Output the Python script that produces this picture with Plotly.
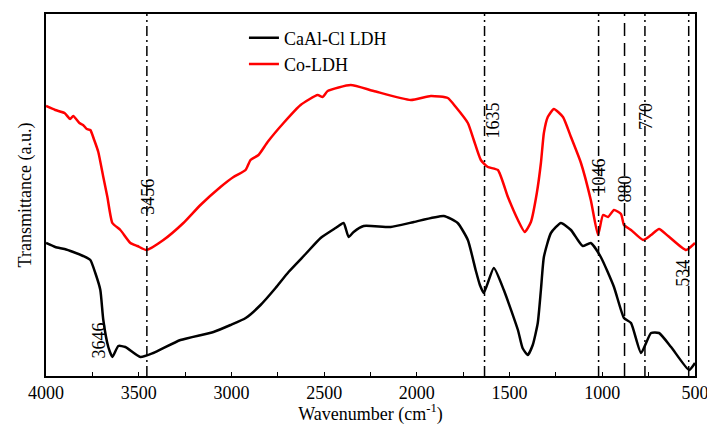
import plotly.graph_objects as go

# ---------------- data ----------------
red_wn = [4000, 3950, 3900, 3870, 3853, 3820, 3800, 3780, 3761, 3740, 3718, 3691, 3669, 3642,
          3599, 3545, 3507, 3458, 3367, 3259, 3167, 3059, 2989, 2924, 2897, 2854, 2805,
          2719, 2627, 2535, 2508, 2481, 2357, 2233, 2033, 1925, 1833, 1790, 1725, 1693,
          1655, 1617, 1563, 1509, 1455, 1418, 1385, 1353, 1331, 1315, 1294, 1261, 1212,
          1169, 1115, 1062, 1023, 996, 969, 937, 899, 883, 845, 780, 737, 694, 645, 548, 500]
red_val = [270, 266, 263, 257, 260, 253, 251, 247, 246, 236, 224, 199, 179, 153,
           146, 133, 130, 126, 136, 153, 171, 189, 199, 206, 216, 221, 234,
           253, 271, 281, 279, 285, 291, 285, 276, 280, 278, 269, 253, 236,
           216, 209, 206, 179, 156, 144, 154, 183, 213, 243, 259, 267, 259,
           239, 213, 176, 141, 161, 159, 166, 162, 151, 146, 136, 141, 147, 140, 126, 133]

black_wn = [4000, 3950, 3900, 3853, 3800, 3761, 3734, 3707, 3691, 3664, 3642, 3610, 3572,
            3491, 3421, 3275, 3097, 3005, 2923, 2843, 2762, 2692, 2600, 2519, 2438, 2395,
            2368, 2341, 2287, 2141, 2016, 1855, 1780, 1725, 1683, 1660, 1639, 1585, 1531,
            1455, 1430, 1402, 1375, 1348, 1331, 1315, 1277, 1223, 1169, 1132, 1105, 1062,
            1008, 937, 883, 845, 791, 737, 694, 629, 532, 500]
black_val = [133, 129, 127, 124, 120, 116, 103, 86, 56, 29, 19, 30, 29,
             19, 23, 36, 44, 51, 58, 71, 88, 104, 122, 138, 148, 153,
             139, 144, 150, 149, 154, 160, 153, 136, 106, 91, 83, 108, 86,
             46, 28, 21, 31, 53, 86, 119, 143, 153, 146, 136, 130, 133,
             119, 89, 58, 53, 23, 43, 43, 29, 6, 13]

series_names = ["CaAl-Cl LDH", "Co-LDH"]

peak_lines = [3456, 1635, 1020, 880, 770, 534]
peak_labels = ["3456", "1635", "1046", "880", "770", "534"]
extra_label = "3646"

tick_vals = [4000, 3500, 3000, 2500, 2000, 1500, 1000, 500]
tick_text = ["4000", "3500", "3000", "2500", "2000", "1500", "1000", "500"]

# ---------------- figure ----------------
FONT = "Liberation Serif, Times New Roman, serif"
fig = go.Figure()
fig.add_trace(go.Scatter(x=black_wn, y=black_val, mode="lines", name=series_names[0],
                         line=dict(color="black", width=2.5, shape="spline", smoothing=0.5)))
fig.add_trace(go.Scatter(x=red_wn, y=red_val, mode="lines", name=series_names[1],
                         line=dict(color="#ff0000", width=2.5, shape="spline", smoothing=0.5)))

line_styles = ["10px,4px,2px,4px"] * 6
line_styles[3] = "13px,7px"
for pos, st in zip(peak_lines, line_styles):
    fig.add_shape(type="line", xref="x", yref="paper", x0=pos, x1=pos, y0=0, y1=1,
                  line=dict(color="black", width=1.5, dash=st))

# label placement (value-axis heights and pixel shifts)
label_y = [179, 255, 199, 187, 260, 103]
label_dx = [1, 8, 0, 0, 1, -6]
for pos, txt, yy, dx in zip(peak_lines, peak_labels, label_y, label_dx):
    fig.add_annotation(x=pos, y=yy, text=txt, textangle=-90, showarrow=False,
                       xshift=dx, font=dict(family=FONT, size=18, color="black"))
fig.add_annotation(x=3712, y=36, text=extra_label, textangle=-90, showarrow=False,
                   font=dict(family=FONT, size=18, color="black"))

fig.update_layout(
    width=707, height=425,
    margin=dict(l=46, r=12, t=14, b=49),
    paper_bgcolor="white", plot_bgcolor="white",
    font=dict(family=FONT, size=18, color="black"),
    showlegend=True,
    legend=dict(x=0.305, y=0.985, xanchor="left", yanchor="top",
                bgcolor="rgba(0,0,0,0)", font=dict(family=FONT, size=18),
                tracegroupgap=0),
    xaxis=dict(range=[4000, 500], autorange=False, automargin=False,
               showgrid=False, zeroline=False, ticklabeloverflow="allow",
               showline=True, linecolor="black", linewidth=1.5, mirror=True,
               ticks="inside", ticklen=4, tickcolor="black",
               tickvals=tick_vals, ticktext=tick_text,
               minor=dict(ticks="inside", ticklen=4, dtick=250, tickcolor="black"),
               tickfont=dict(family=FONT, size=18),
               title=dict(text="Wavenumber (cm<sup>-1</sup>)", standoff=6,
                          font=dict(family=FONT, size=18))),
    yaxis=dict(range=[0, 362], autorange=False, automargin=False,
               showgrid=False, zeroline=False,
               showline=True, linecolor="black", linewidth=1.5, mirror=True,
               ticks="", showticklabels=False,
               title=dict(text="Transmittance (a.u.)", standoff=8,
                          font=dict(family=FONT, size=18))),
)

fig.write_html("out.html")
